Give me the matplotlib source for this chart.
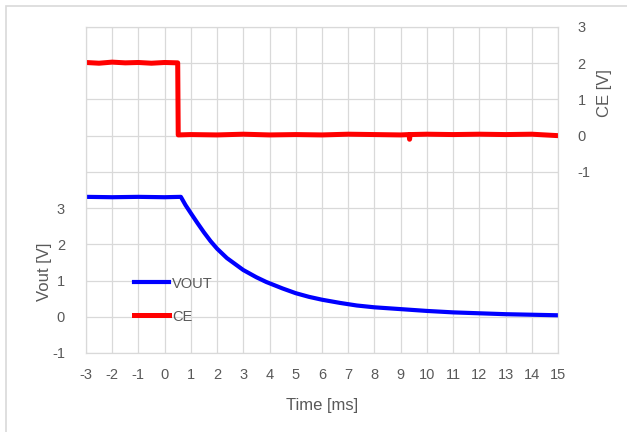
import matplotlib
matplotlib.use('Agg')
import matplotlib.pyplot as plt
from matplotlib.patches import Rectangle

# ======================
# DATA (read off the scope capture)
# ======================
t_vout = [-3, -2, -1, 0, 0.62, 0.8, 1.0, 1.25, 1.5, 1.75, 2.0, 2.375, 3.0, 3.5, 3.875, 4.5,
          5.0, 5.5, 6.0, 6.7, 7.33, 8, 9, 10, 11, 12, 13, 14, 15]
vout = [3.31, 3.30, 3.31, 3.30, 3.31, 3.08, 2.86, 2.59, 2.33, 2.09, 1.88, 1.62, 1.29, 1.09,
        0.96, 0.78, 0.65, 0.55, 0.47, 0.38, 0.31, 0.26, 0.21, 0.16, 0.12, 0.095, 0.07, 0.055, 0.04]

t_ce = [-3, -2.5, -2, -1.5, -1, -0.5, 0, 0.5, 0.52, 1, 2, 3, 4, 5, 6, 7, 8, 9, 9.32, 9.34,
        9.36, 10, 11, 12, 13, 14, 15]
ce = [2.02, 2.0, 2.03, 2.01, 2.02, 2.0, 2.02, 2.01, 0.02, 0.03, 0.02, 0.04, 0.02, 0.03,
      0.02, 0.04, 0.03, 0.02, 0.03, -0.1, 0.03, 0.04, 0.03, 0.04, 0.03, 0.04, 0.0]

x_ticks = list(range(-3, 16))
left_ticks = list(range(-1, 9))
right_ticks = [-1, 0, 1, 2, 3]

grid_col = '#d9d9d9'
text_col = '#595959'

plt.rcParams['font.family'] = ['Liberation Sans', 'DejaVu Sans']
plt.rcParams['font.size'] = 10.5
plt.rcParams['axes.unicode_minus'] = False


def generate_graph():
    fig = plt.figure(figsize=(6.27, 4.32), dpi=100)
    ax = fig.add_axes([0.137, 0.183, 0.753, 0.7545])
    ax2 = ax.twinx()

    # outer chart frame
    fig.patches.append(Rectangle((6 / 627, -0.1), 1.2, 1.1 - 6 / 432, transform=fig.transFigure,
                                 fill=False, edgecolor=grid_col, linewidth=1.2))

    l1, = ax.plot(t_vout, vout, color='#0000ff', linewidth=3, label='VOUT', solid_joinstyle='round')
    l2, = ax2.plot(t_ce, ce, color='#ff0000', linewidth=3.6, label='CE')

    ax.set_xlim(-3, 15)
    ax.set_ylim(-1, 8)
    ax2.set_ylim(-6, 3)

    ax.set_xticks(x_ticks)
    ax.set_yticks(left_ticks)
    ax.set_yticklabels([str(v) if v <= 3 else '' for v in left_ticks])
    ax2.set_yticks(right_ticks)

    ax.grid(True, color=grid_col, linewidth=0.9)
    ax.set_axisbelow(True)
    for a in (ax, ax2):
        for s in a.spines.values():
            s.set_color(grid_col)
        a.tick_params(length=0, colors=text_col, labelsize=10.5)
    ax.tick_params(axis='x', pad=11)
    ax.tick_params(axis='y', pad=15)
    ax2.tick_params(axis='y', pad=14)

    ax.set_xlabel('Time [ms]', color=text_col, fontsize=12)
    ax.set_ylabel('Vout [V]', color=text_col, fontsize=12)
    ax2.set_ylabel('CE [V]', color=text_col, fontsize=12)
    ax.xaxis.set_label_coords(0.5, -0.137)
    ax.yaxis.set_label_coords(-0.071, 0.25)
    ax2.yaxis.set_label_coords(1.082, 0.797)

    leg = ax.legend([l1, l2], ['VOUT', 'CE'], loc='lower left', bbox_to_anchor=(0.075, 0.05),
                    frameon=False, handlelength=2.4, handletextpad=0.2, labelspacing=1.3,
                    fontsize=10.5)
    for txt in leg.get_texts():
        txt.set_color(text_col)

    plt.savefig('out.png', dpi=100)


if __name__ == '__main__':
    generate_graph()
